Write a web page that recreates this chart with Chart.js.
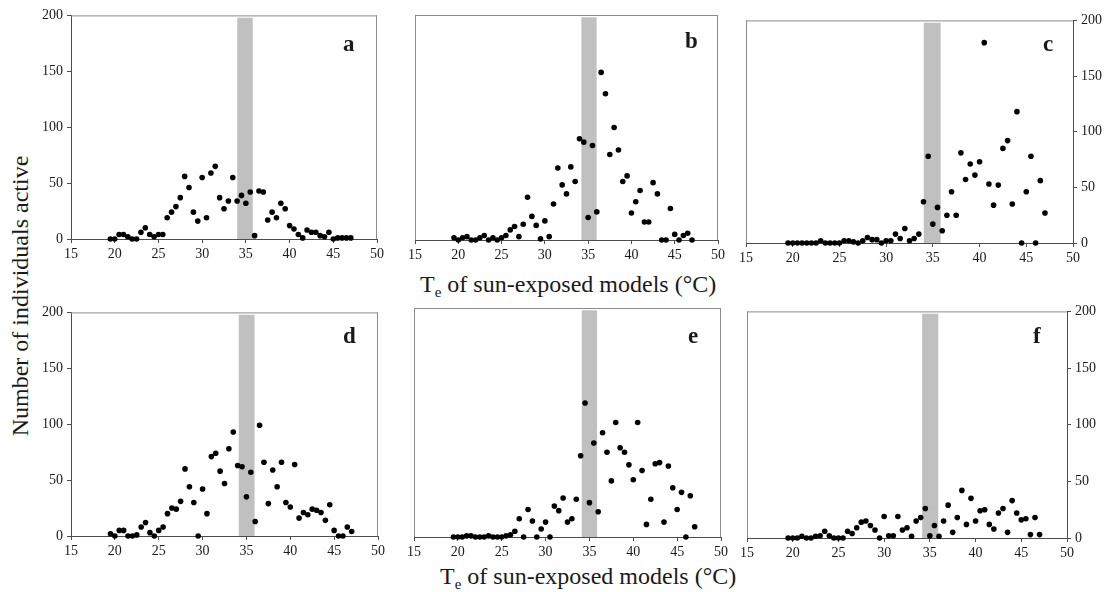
<!DOCTYPE html>
<html>
<head>
<meta charset="utf-8">
<script src="https://cdn.jsdelivr.net/npm/chart.js@4.4.0/dist/chart.umd.min.js"></script>
<style>
  body { margin: 0; background: #fff; width: 1107px; height: 592px; position: relative; overflow: hidden;
         font-family: "Liberation Serif", "Times New Roman", serif; color: #1a1a1a; }
  canvas { position: absolute; }
  .letter { position: absolute; font-size: 23px; font-weight: bold; line-height: 1; }
  .xtitle { position: absolute; font-size: 24px; line-height: 1; white-space: nowrap; }
  .xtitle sub { font-size: 15px; vertical-align: -5px; }
  .ytitle { position: absolute; font-size: 24px; line-height: 24px; width: 340px; height: 24px;
            text-align: center; white-space: nowrap; transform: rotate(-90deg); }
</style>
</head>
<body>
<div class="ytitle" style="left:-150px; top:284px;">Number of individuals active</div>
<div class="xtitle" style="left:420px; top:272px;">T<sub>e</sub> of sun-exposed models (°C)</div>
<div class="xtitle" style="left:440px; top:564px;">T<sub>e</sub> of sun-exposed models (°C)</div>

<script>
// Te of sun-exposed models (°C)
const temps = [19.5, 20, 20.5, 21, 21.5, 22, 22.5, 23, 23.5, 24,
               24.5, 25, 25.5, 26, 26.5, 27, 27.5, 28, 28.5, 29,
               29.5, 30, 30.5, 31, 31.5, 32, 32.5, 33, 33.5, 34,
               34.5, 35, 35.5, 36, 36.5, 37, 37.5, 38, 38.5, 39,
               39.5, 40, 40.5, 41, 41.5, 42, 42.5, 43, 43.5, 44,
               44.5, 45, 45.5, 46, 46.5, 47];

// number of individuals active, one list per panel
const countsA = [0, 0, 4, 4, 2, 0, 0, 6, 10, 4,
                 2, 4, 4, 19, 24, 29, 37, 56, 46, 24,
                 16, 55, 19, 59, 65, 37, 27, 34, 55, 34,
                 39, 32, 42, 3, 43, 42, 17, 24, 19, 32,
                 27, 12, 9, 4, 1, 8, 6, 6, 3, 2,
                 6, 0, 1, 1, 1, 1];
const countsB = [2, 0, 2, 3, 0, 0, 2, 4, 0, 2,
                 0, 2, 4, 9, 12, 3, 14, 38, 21, 13,
                 1, 17, 3, 32, 64, 49, 41, 65, 52, 90,
                 87, 20, 84, 25, 149, 130, 76, 100, 80, 52,
                 57, 24, 34, 44, 16, 16, 51, 41, 0, 0,
                 28, 5, 0, 4, 6, 0];
const countsC = [0, 0, 0, 0, 0, 0, 0, 2, 0, 0,
                 0, 0, 2, 2, 1, 0, 2, 5, 3, 3,
                 0, 2, 2, 8, 4, 13, 2, 4, 8, 37,
                 78, 17, 32, 11, 25, 46, 25, 81, 57, 71,
                 61, 73, 180, 53, 34, 52, 85, 92, 35, 118,
                 0, 46, 78, 0, 56, 27];
const countsD = [2, 0, 5, 5, 0, 0, 1, 8, 12, 3,
                 0, 5, 8, 20, 25, 24, 31, 60, 44, 30,
                 0, 42, 20, 71, 74, 58, 47, 78, 93, 63,
                 62, 35, 57, 13, 99, 66, 29, 59, 44, 66,
                 30, 26, 64, 16, 21, 19, 24, 23, 21, 14,
                 28, 5, 0, 0, 8, 4];
const countsE = [0, 0, 0, 1, 1, 0, 0, 0, 1, 0,
                 0, 0, 1, 2, 5, 16, 0, 24, 14, 0,
                 7, 13, 0, 27, 23, 34, 13, 16, 33, 71,
                 117, 30, 82, 22, 91, 74, 49, 100, 78, 74,
                 63, 50, 100, 58, 11, 33, 64, 65, 13, 62,
                 43, 24, 39, 0, 36, 9];
const countsF = [0, 0, 0, 1.5, 0, 0, 1.5, 2, 6, 2,
                 0, 0, 0, 6, 4, 9, 14, 15, 11, 7,
                 0, 19, 2, 2, 19, 7, 9, 1.5, 15, 18,
                 26, 2, 11, 1.5, 15, 29, 5, 18, 42, 12,
                 35, 15, 24, 25, 12, 8, 22, 26, 5, 33,
                 22, 16, 17, 3, 18, 3];

const panelLetters = ["a", "b", "c", "d", "e", "f"];
const panelCounts = [countsA, countsB, countsC, countsD, countsE, countsF];

// grey band (preferred temperature range) per panel
const bandFrom = [34.0, 34.2, 34.0, 34.1, 34.1, 34.15];
const bandTo   = [35.8, 36.0, 35.85, 35.95, 35.9, 35.95];
const bandTop = 198;

const xTicks = [15, 20, 25, 30, 35, 40, 45, 50];
const yTicks = [0, 50, 100, 150, 200];

// plot boxes on the page
const panels = [
  { l: 71,  t: 13,  r: 377,  b: 239, yPos: "left",  letter: [343, 32] },
  { l: 401, t: 15,  r: 718,  b: 240, yPos: "none",  letter: [685, 29] },
  { l: 746, t: 18,  r: 1073, b: 243, yPos: "right", letter: [1043, 32] },
  { l: 71,  t: 310, r: 378,  b: 536, yPos: "left",  letter: [343, 324] },
  { l: 400, t: 308, r: 721,  b: 537, yPos: "none",  letter: [688, 324] },
  { l: 747, t: 309, r: 1067, b: 538, yPos: "right", letter: [1033, 324] }
];

const tickFont = { family: "'Liberation Serif', 'Times New Roman', serif", size: 14 };
const axisColor = "#4d4d4d";
const frameColor = "#8c8c8c";

// light grey box round the plot area (sides that are not axes)
const framePlugin = {
  id: "frame",
  afterDatasetsDraw(chart, args, opts) {
    const a = chart.chartArea, ctx = chart.ctx;
    ctx.save();
    ctx.strokeStyle = frameColor;
    ctx.lineWidth = 1;
    ctx.beginPath();
    ctx.moveTo(a.left, a.top + 0.5);
    ctx.lineTo(a.right, a.top + 0.5);
    if (opts.right) { ctx.moveTo(a.right - 0.5, a.top); ctx.lineTo(a.right - 0.5, a.bottom); }
    if (opts.left) { ctx.moveTo(a.left + 0.5, a.top); ctx.lineTo(a.left + 0.5, a.bottom); }
    ctx.stroke();
    ctx.restore();
  }
};

function makePanel(p, i) {
  const padTop = 10, padBottom = 34;
  const leftExt = p.yPos === "left" ? 46 : 14;
  const rightExt = p.yPos === "right" ? 34 : 14;
  const w = p.r - p.l, h = p.b - p.t;

  const canvas = document.createElement("canvas");
  canvas.width = leftExt + w + rightExt;
  canvas.height = padTop + h + padBottom;
  canvas.style.left = (p.l - leftExt) + "px";
  canvas.style.top = (p.t - padTop) + "px";
  document.body.appendChild(canvas);

  const letter = document.createElement("div");
  letter.className = "letter";
  letter.textContent = panelLetters[i];
  letter.style.left = p.letter[0] + "px";
  letter.style.top = p.letter[1] + "px";
  document.body.appendChild(letter);

  const points = temps.map((t, k) => ({ x: t, y: panelCounts[i][k] }));

  new Chart(canvas, {
    type: "scatter",
    data: {
      datasets: [
        {
          data: points,
          backgroundColor: "#000",
          borderWidth: 0,
          pointRadius: 2.8,
          clip: false,
          order: 1
        },
        {
          type: "line",
          data: [{ x: bandFrom[i], y: bandTop }, { x: bandTo[i], y: bandTop }],
          fill: "origin",
          backgroundColor: "#c0c0c0",
          borderWidth: 0,
          pointRadius: 0,
          order: 2
        }
      ]
    },
    options: {
      responsive: false,
      animation: false,
      devicePixelRatio: 1,
      layout: {
        padding: {
          top: padTop,
          bottom: 0,
          left: p.yPos === "left" ? 0 : leftExt,
          right: p.yPos === "right" ? 0 : rightExt
        }
      },
      plugins: {
        legend: { display: false },
        tooltip: { enabled: false },
        frame: { left: p.yPos !== "left", right: p.yPos !== "right" }
      },
      scales: {
        x: {
          type: "linear",
          min: 15,
          max: 50,
          afterBuildTicks: s => { s.ticks = xTicks.map(v => ({ value: v })); },
          afterFit: s => { s.height = padBottom; },
          grid: { drawOnChartArea: false, tickLength: 4, color: axisColor },
          border: { color: axisColor },
          ticks: { font: tickFont, color: "#1a1a1a", padding: 3, maxRotation: 0, autoSkip: false }
        },
        y: {
          display: p.yPos !== "none",
          position: p.yPos === "right" ? "right" : "left",
          min: 0,
          max: 200,
          afterBuildTicks: s => { s.ticks = yTicks.map(v => ({ value: v })); },
          afterFit: s => { s.width = p.yPos === "right" ? rightExt : leftExt; },
          grid: { drawOnChartArea: false, tickLength: 4, color: axisColor },
          border: { color: axisColor },
          ticks: { font: tickFont, color: "#1a1a1a", padding: 4 }
        }
      }
    },
    plugins: [framePlugin]
  });
}

panels.forEach(makePanel);
</script>
</body>
</html>
